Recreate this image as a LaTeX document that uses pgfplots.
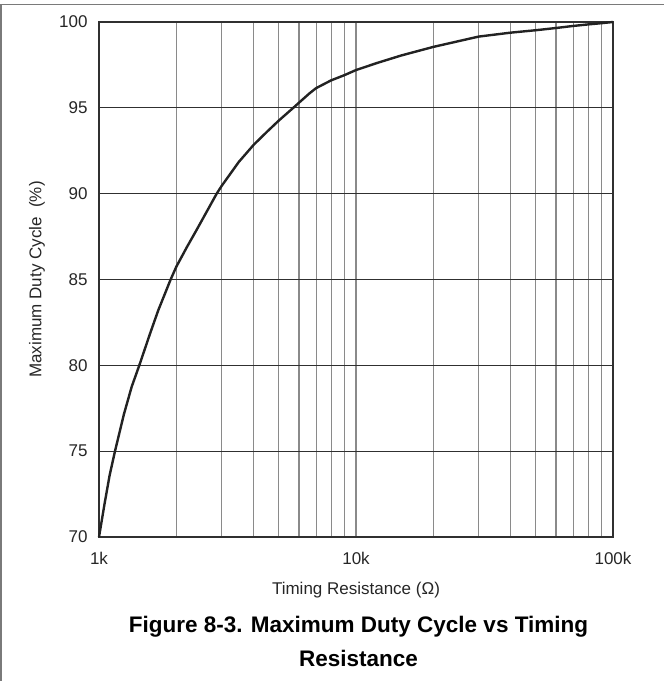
\documentclass[border=0pt]{standalone}
\usepackage{pgfplots}
\pgfplotsset{compat=1.18}
\usepackage{fontspec}
\setmainfont{Liberation Sans}
\definecolor{gridv}{HTML}{8A8A8A}
\definecolor{gridh}{HTML}{303030}
\definecolor{curve}{HTML}{222222}
\definecolor{framec}{HTML}{7A7A7A}
\begin{document}
\begin{tikzpicture}[x=1pt,y=1pt]
\path[use as bounding box] (-99,-144) rectangle (565,537);
\draw[framec,line width=1.6pt] (-98,-144) -- (-98,532.5) -- (565,532.5);
\begin{axis}[
  at={(0,0)}, anchor=south west,
  scale only axis, width=514pt, height=515pt,
  xmode=log, log basis x=10,
  xmin=1000, xmax=100000, ymin=70, ymax=100,
  xtick={1000,10000,100000}, xticklabels={1k,10k,100k},
  minor xtick={2000,3000,4000,5000,6000,7000,8000,9000,20000,30000,40000,50000,60000,70000,80000,90000},
  ytick={70,75,80,85,90,95,100},
  major tick length=0pt, minor tick length=0pt,
  xmajorgrids=true, xminorgrids=true, ymajorgrids=true,
  x grid style={gridv,line width=1.2pt},
  minor x grid style={gridv,line width=1.2pt},
  y grid style={gridh,line width=0.9pt},
  axis line style={gridh,line width=1.8pt},
  /pgf/number format/assume math mode=true,
  ticklabel style={font=\fontsize{17}{20}\selectfont, text=black!85},
  yticklabel style={xshift=-8pt},
  xticklabel style={yshift=-12pt},
  xlabel={Timing Resistance (Ω)},
  ylabel={Maximum Duty Cycle\ \ (\%)},
  label style={font=\fontsize{17}{20}\selectfont, text=black!85},
  xlabel style={at={(axis description cs:0.5,0)}, anchor=center, yshift=-53pt},
  ylabel style={at={(axis description cs:0,0.5)}, anchor=center, yshift=62pt},
  clip=false,
]
\addplot[curve, line width=2.4pt] table {
x y
1000 70
1050 71.9
1100 73.6
1154 75
1250 77.15
1340 78.75
1435 80
1580 81.85
1700 83.2
1900 85
2000 85.75
2200 86.9
2400 87.9
2870 90
3000 90.45
3500 91.85
4000 92.85
4500 93.6
5000 94.25
5700 95
6000 95.3
6600 95.85
7000 96.15
8000 96.6
9000 96.9
10000 97.2
12000 97.6
15000 98.05
20000 98.55
30000 99.15
40000 99.38
50000 99.52
60000 99.65
70000 99.77
80000 99.86
90000 99.93
100000 100
};
\end{axis}
\node[font=\fontsize{22.5}{34}\selectfont\bfseries, align=center, anchor=north] at (259.5,-76) {Figure 8-3. Maximum Duty Cycle vs Timing\\Resistance};
\end{tikzpicture}
\end{document}
